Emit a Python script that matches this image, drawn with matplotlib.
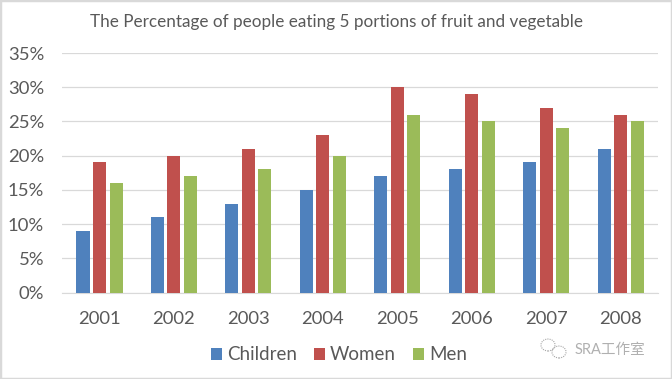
import matplotlib
matplotlib.use("Agg")
from matplotlib import pyplot as plt
from matplotlib.patches import Ellipse, Rectangle
import numpy as np

years = ["2001", "2002", "2003", "2004", "2005", "2006", "2007", "2008"]
children = [9, 11, 13, 15, 17, 18, 19, 21]
women = [19, 20, 21, 23, 30, 29, 27, 26]
men = [16, 17, 18, 20, 26, 25, 24, 25]
y_ticks = [0, 5, 10, 15, 20, 25, 30, 35]

plt.rcParams["font.family"] = ["Lato", "Noto Sans CJK SC", "DejaVu Sans"]

W, H = 672, 379
fig = plt.figure(figsize=(W / 100, H / 100), dpi=100, facecolor="white")
ax = fig.add_axes([62.3 / W, 1 - 292.5 / H, (657.8 - 62.3) / W, (292.5 - 53) / H])

x = np.arange(len(years))
width = 0.175
step = 0.222
ax.bar(x - step, children, width, color="#4F81BD", label="Children", zorder=3)
ax.bar(x, women, width, color="#C0504D", label="Women", zorder=3)
ax.bar(x + step, men, width, color="#9BBB59", label="Men", zorder=3)

ax.set_xlim(-0.5, 7.5)
ax.set_ylim(0, 35)
ax.set_yticks(y_ticks)
ax.set_yticklabels([f"{t}%" for t in y_ticks])
ax.set_xticks(x)
ax.set_xticklabels(years)
ax.tick_params(axis="both", length=0, labelsize=13.3, labelcolor="#595959")
ax.tick_params(axis="x", pad=13.5)
ax.tick_params(axis="y", pad=13)
ax.grid(axis="y", color="#D9D9D9", linewidth=0.9, zorder=0)
ax.set_axisbelow(True)
for name in ["top", "right", "left"]:
    ax.spines[name].set_visible(False)
ax.spines["bottom"].set_color("#D9D9D9")

fig.text(336 / W, 1 - 22.5 / H, "The Percentage of people eating 5 portions of fruit and vegetable",
         ha="center", va="center", fontsize=12.35, color="#595959")

ax.legend(loc="center", bbox_to_anchor=(339 / W, 1 - 355 / H), bbox_transform=fig.transFigure,
          ncol=3, frameon=False, fontsize=13.5, labelcolor="#595959", handlelength=0.59,
          handleheight=0.59, columnspacing=0.9, handletextpad=0.27)

# border of the screenshot
fig.add_artist(Rectangle((0, 0), 1, 1, transform=fig.transFigure, fill=False,
                         edgecolor="#D9D9D9", linewidth=2.5))

# watermark
fig.text(575 / W, 1 - 350 / H, "SRA工作室", ha="left", va="center", fontsize=10.5, color="#b0b0b0")
fig.add_artist(Ellipse((548 / W, 1 - 345 / H), 14 / W, 12 / H, transform=fig.transFigure,
                       fill=False, edgecolor="#a6a6a6", linewidth=0.8, linestyle=(0, (1, 1))))
fig.add_artist(Ellipse((559 / W, 1 - 352 / H), 14 / W, 12 / H, transform=fig.transFigure,
                       fill=False, edgecolor="#a6a6a6", linewidth=0.8, linestyle=(0, (1, 1))))

fig.savefig("out.png", dpi=100)
